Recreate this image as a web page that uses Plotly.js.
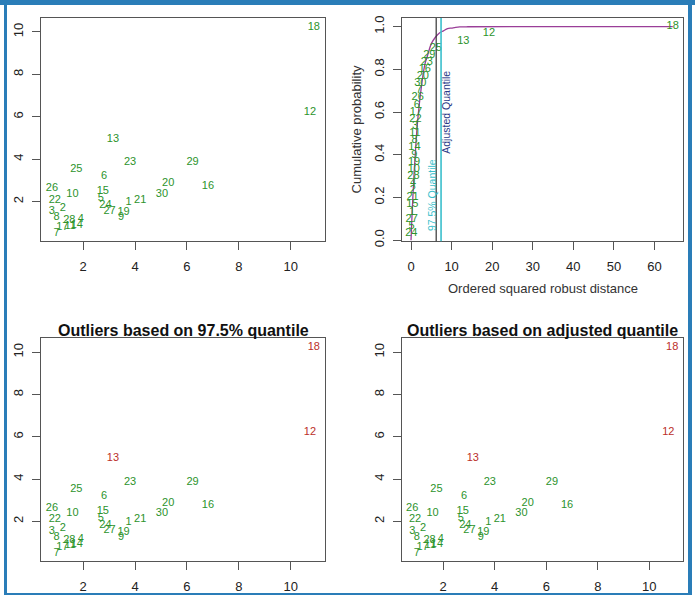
<!DOCTYPE html>
<html><head><meta charset="utf-8">
<script src="https://cdn.plot.ly/plotly-3.0.1.min.js"></script>
<style>html,body{margin:0;padding:0;background:#fff}#chart{width:695px;height:602px}</style>
</head><body><div id="chart"></div>
<script>
// ---- data ----
const pointLabels = ['1','2','3','4','5','6','7','8','9','10','11','12','13','14','15','16','17','18','19','20','21','22','23','24','25','26','27','28','29','30'];
const xValues = [3.75,1.22,0.80,1.91,2.68,2.81,0.98,0.98,3.46,1.59,1.50,10.74,3.15,1.76,2.76,6.81,1.20,10.89,3.56,5.28,4.20,0.91,3.81,2.86,1.74,0.80,3.02,1.47,6.22,5.04];
const yValues = [1.94,1.66,1.53,1.14,2.14,3.17,0.51,1.26,1.26,2.36,0.85,6.22,4.96,0.89,2.47,2.74,0.79,10.24,1.48,2.84,2.08,2.08,3.84,1.83,3.53,2.63,1.56,1.10,3.84,2.36];
const outliers975 = ['12','13','18'];
const outliersAdj = ['12','13','18'];

const ecdfLabels = ['24','5','27','1','15','21','2','4','28','10','19','9','14','8','11','3','22','17','6','26','7','30','20','16','23','29','25','13','12','18'];
const ecdfDist = [0.08,0.12,0.18,0.25,0.32,0.38,0.45,0.52,0.6,0.68,0.75,0.8,0.85,0.9,0.96,1.02,1.1,1.2,1.4,1.65,2.0,2.3,2.9,3.4,3.9,4.5,6.1,12.9,19.2,64.5];
const ecdfProb = [0.033,0.067,0.1,0.133,0.167,0.2,0.233,0.267,0.3,0.333,0.367,0.4,0.433,0.467,0.5,0.533,0.567,0.6,0.633,0.667,0.7,0.733,0.767,0.8,0.833,0.867,0.9,0.933,0.967,1.0];

const curveX = [0,0.25,0.5,0.75,1,1.5,2,2.5,3,3.5,4,5,6,7,8,9,10,11,12,14,64.5];
const curveY = [0,0.12,0.22,0.31,0.39,0.53,0.63,0.71,0.78,0.83,0.86,0.92,0.95,0.97,0.98,0.99,0.993,0.996,0.998,0.999,1.0];

const quantile975 = 7.4;
const adjustedQuantile = 6.2;

const xTicksScatter = [2,4,6,8,10];
const yTicksScatter = [2,4,6,8,10];
const xTicksEcdf = [0,10,20,30,40,50,60];
const yTicksEcdf = [0,0.2,0.4,0.6,0.8,1.0];
const yTickTextEcdf = ['0.0','0.2','0.4','0.6','0.8','1.0'];

// ---- style ----
const FONT = 'Liberation Sans, Arial, Helvetica, sans-serif';
const GREEN = '#2c932c';
const RED = '#bb2f2a';
const PURPLE = '#9a3e98';
const CYAN = '#3bbfcc';
const NAVY = '#2a3a88';
const LABEL_SIZE = 11;

const W = 695, H = 602;
const px = v => v / W;
const py = v => 1 - v / H;

function colorsFor(outs) {
  return pointLabels.map(l => outs.includes(l) ? RED : GREEN);
}

const traces = [
  {x: xValues, y: yValues, text: pointLabels, mode: 'text', type: 'scatter',
   textfont: {family: FONT, size: LABEL_SIZE, color: GREEN}, xaxis: 'x', yaxis: 'y', hoverinfo: 'none', cliponaxis: false},
  {x: curveX, y: curveY, mode: 'lines', type: 'scatter', line: {color: PURPLE, width: 1.3, shape: 'spline', smoothing: 1},
   xaxis: 'x2', yaxis: 'y2', hoverinfo: 'none'},
  {x: ecdfDist, y: ecdfProb, text: ecdfLabels, mode: 'text', type: 'scatter',
   textfont: {family: FONT, size: LABEL_SIZE, color: GREEN}, xaxis: 'x2', yaxis: 'y2', hoverinfo: 'none', cliponaxis: false},
  {x: xValues, y: yValues, text: pointLabels, mode: 'text', type: 'scatter',
   textfont: {family: FONT, size: LABEL_SIZE, color: colorsFor(outliers975)}, xaxis: 'x3', yaxis: 'y3', hoverinfo: 'none', cliponaxis: false},
  {x: xValues, y: yValues, text: pointLabels, mode: 'text', type: 'scatter',
   textfont: {family: FONT, size: LABEL_SIZE, color: colorsFor(outliersAdj)}, xaxis: 'x4', yaxis: 'y4', hoverinfo: 'none', cliponaxis: false}
];

const axBase = {showline: true, mirror: true, linecolor: '#555', linewidth: 1, ticks: 'outside', ticklen: 8,
  tickcolor: '#555', tickwidth: 1, showgrid: false, zeroline: false,
  tickfont: {family: FONT, size: 13, color: '#222'}, fixedrange: true};

const xdL = [px(41.3), px(325)], xdR = [px(401.7), px(683.3)];
const ydT = [py(241.3), py(18)], ydB = [py(561), py(338.3)];

function xa(domain, range, tickvals, anchor) {
  return Object.assign({}, axBase, {domain, range, tickvals, ticktext: tickvals.map(String), tickmode: 'array', anchor, ticklabelstandoff: 5});
}
function ya(domain, range, tickvals, ticktext, anchor) {
  return Object.assign({}, axBase, {domain, range, tickvals, ticktext, tickmode: 'array', anchor, tickangle: -90, ticklabelstandoff: 4});
}

const scatterXRange = [0.39, 11.32];
const scatterYRange = [0.12, 10.66];

const layout = {
  width: W, height: H, autosize: false,
  margin: {l: 0, r: 0, t: 0, b: 0},
  paper_bgcolor: '#fff', plot_bgcolor: '#fff', showlegend: false,
  font: {family: FONT},
  xaxis: xa(xdL, scatterXRange, xTicksScatter, 'y'),
  yaxis: ya(ydT, scatterYRange, yTicksScatter, yTicksScatter.map(String), 'x'),
  xaxis2: xa(xdR, [-2.3, 67.1], xTicksEcdf, 'y2'),
  yaxis2: ya(ydT, [-0.005, 1.04], yTicksEcdf, yTickTextEcdf, 'x2'),
  xaxis3: xa(xdL, scatterXRange, xTicksScatter, 'y3'),
  yaxis3: ya(ydB, scatterYRange, yTicksScatter, yTicksScatter.map(String), 'x3'),
  xaxis4: xa(xdR, scatterXRange, xTicksScatter, 'y4'),
  yaxis4: ya(ydB, scatterYRange, yTicksScatter, yTicksScatter.map(String), 'x4'),
  shapes: [
    {type: 'line', xref: 'x2', yref: 'y2 domain', x0: adjustedQuantile, x1: adjustedQuantile, y0: 0, y1: 1, line: {color: '#333', width: 1.2}},
    {type: 'line', xref: 'x2', yref: 'y2 domain', x0: quantile975, x1: quantile975, y0: 0, y1: 1, line: {color: CYAN, width: 1.6}},
    // blue frame
    {type: 'rect', xref: 'paper', yref: 'paper', x0: 0, x1: 1, y0: py(5), y1: 1, line: {width: 0}, fillcolor: '#2a7db8'},
    {type: 'rect', xref: 'paper', yref: 'paper', x0: px(4), x1: px(7), y0: py(595), y1: 1, line: {width: 0}, fillcolor: '#2a7db8'},
    {type: 'rect', xref: 'paper', yref: 'paper', x0: px(688), x1: px(692), y0: py(595), y1: 1, line: {width: 0}, fillcolor: '#2a7db8'},
    {type: 'rect', xref: 'paper', yref: 'paper', x0: px(4), x1: px(692), y0: py(595), y1: py(593), line: {width: 0}, fillcolor: '#2a7db8'}
  ],
  annotations: [
    {text: '<b>Outliers based on 97.5% quantile</b>', xref: 'paper', yref: 'paper', x: px(183.2), y: py(330.5),
     xanchor: 'center', yanchor: 'middle', showarrow: false, font: {family: FONT, size: 16, color: '#111'}},
    {text: '<b>Outliers based on adjusted quantile</b>', xref: 'paper', yref: 'paper', x: px(542.5), y: py(330.5),
     xanchor: 'center', yanchor: 'middle', showarrow: false, font: {family: FONT, size: 16, color: '#111'}},
    {text: 'Ordered squared robust distance', xref: 'paper', yref: 'paper', x: px(542.5), y: py(288.3),
     xanchor: 'center', yanchor: 'middle', showarrow: false, font: {family: FONT, size: 13, color: '#333'}},
    {text: 'Cumulative probability', xref: 'paper', yref: 'paper', x: px(356.7), y: py(129.7), textangle: -90,
     xanchor: 'center', yanchor: 'middle', showarrow: false, font: {family: FONT, size: 13, color: '#333'}},
    {text: '97.5% Quantile', xref: 'x2', yref: 'y2', x: 5.35, y: 0.21, textangle: -90,
     xanchor: 'center', yanchor: 'middle', showarrow: false, font: {family: FONT, size: 10.5, color: CYAN}},
    {text: 'Adjusted Quantile', xref: 'x2', yref: 'y2', x: 8.55, y: 0.6, textangle: -90,
     xanchor: 'center', yanchor: 'middle', showarrow: false, font: {family: FONT, size: 10.5, color: NAVY}}
  ]
};

Plotly.newPlot('chart', traces, layout, {displayModeBar: false, staticPlot: true});
</script>
</body></html>
